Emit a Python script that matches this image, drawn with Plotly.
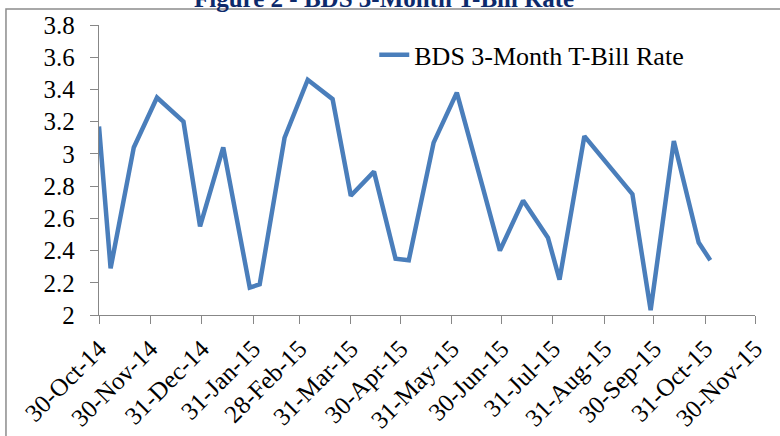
import plotly.graph_objects as go

dates = ["2014-10-30", "2014-11-06", "2014-11-20", "2014-12-04", "2014-12-20",
         "2014-12-30", "2015-01-13", "2015-01-29", "2015-02-04", "2015-02-19",
         "2015-03-05", "2015-03-20", "2015-03-31", "2015-04-14", "2015-04-27",
         "2015-05-05", "2015-05-20", "2015-06-03", "2015-06-19", "2015-06-29",
         "2015-07-13", "2015-07-28", "2015-08-04", "2015-08-19", "2015-09-17",
         "2015-09-28", "2015-10-12", "2015-10-27", "2015-11-03"]
rates = [3.17, 2.29, 3.04, 3.35, 3.20,
         2.55, 3.04, 2.17, 2.19, 3.10,
         3.46, 3.34, 2.74, 2.89, 2.35,
         2.34, 3.07, 3.38, 2.78, 2.40,
         2.71, 2.48, 2.22, 3.11, 2.75,
         2.03, 3.08, 2.45, 2.34]

tick_dates = ["2014-10-30", "2014-11-30", "2014-12-31", "2015-01-31", "2015-02-28",
              "2015-03-31", "2015-04-30", "2015-05-31", "2015-06-30", "2015-07-31",
              "2015-08-31", "2015-09-30", "2015-10-31", "2015-11-30"]
tick_labels = ["30-Oct-14", "30-Nov-14", "31-Dec-14", "31-Jan-15", "28-Feb-15",
               "31-Mar-15", "30-Apr-15", "31-May-15", "30-Jun-15", "31-Jul-15",
               "31-Aug-15", "30-Sep-15", "31-Oct-15", "30-Nov-15"]
y_ticks = [2, 2.2, 2.4, 2.6, 2.8, 3, 3.2, 3.4, 3.6, 3.8]
y_labels = ["2", "2.2", "2.4", "2.6", "2.8", "3", "3.2", "3.4", "3.6", "3.8"]

series_name = "BDS 3-Month T-Bill Rate"
title_text = "Figure 2 - BDS 3-Month T-Bill Rate"

FONT = "Liberation Serif, Times New Roman, Times, serif"
LINE_COLOR = "#4a7ebb"
AXIS_COLOR = "#878787"

fig = go.Figure()
fig.add_trace(go.Scatter(
    x=dates, y=rates, mode="lines", name=series_name,
    line=dict(color=LINE_COLOR, width=4.5),
))

fig.update_layout(
    width=780, height=436,
    margin=dict(l=99, r=25, t=25, b=121, autoexpand=False),
    paper_bgcolor="white", plot_bgcolor="white",
    font=dict(family=FONT, size=25, color="black"),
    showlegend=True,
    legend=dict(
        x=0.4196, y=0.897, xanchor="left", yanchor="middle",
        bgcolor="rgba(0,0,0,0)", borderwidth=0,
        font=dict(family=FONT, size=26, color="black"),
    ),
    xaxis=dict(
        type="date", automargin=False,
        range=["2014-10-30", "2015-11-30"],
        tickmode="array", tickvals=tick_dates, ticktext=tick_labels,
        tickangle=-45,
        showgrid=False, zeroline=False,
        showline=True, linecolor=AXIS_COLOR, linewidth=1.3,
        ticks="outside", ticklen=8, tickcolor=AXIS_COLOR, tickwidth=1.3,
        tickfont=dict(family=FONT, size=25, color="black"),
    ),
    yaxis=dict(
        automargin=False,
        range=[2, 3.8],
        tickmode="array", tickvals=y_ticks, ticktext=y_labels,
        showgrid=False, zeroline=False,
        showline=True, linecolor=AXIS_COLOR, linewidth=1.3,
        ticks="outside", ticklen=8, tickcolor=AXIS_COLOR, tickwidth=1.3,
        tickfont=dict(family=FONT, size=25, color="black"),
        ticklabelstandoff=10,
    ),
)

# chart title (partly cut off at the top, as in the reference)
fig.add_annotation(
    text="<b>" + title_text + "</b>", showarrow=False,
    xref="paper", yref="paper", x=0.434, y=1.0931,
    xanchor="center", yanchor="middle",
    font=dict(family=FONT, size=25, color="#0d2a6b"),
)

# outer chart frame
fig.add_shape(type="rect", xref="paper", yref="paper",
              x0=-0.1418, x1=1.06, y0=-0.46, y1=1.0552,
              line=dict(color="#8c8c8c", width=1.5), fillcolor="rgba(0,0,0,0)",
              layer="below")

fig.write_html("out.html", config={"displayModeBar": False},
               post_script="document.body.style.margin='0';")
